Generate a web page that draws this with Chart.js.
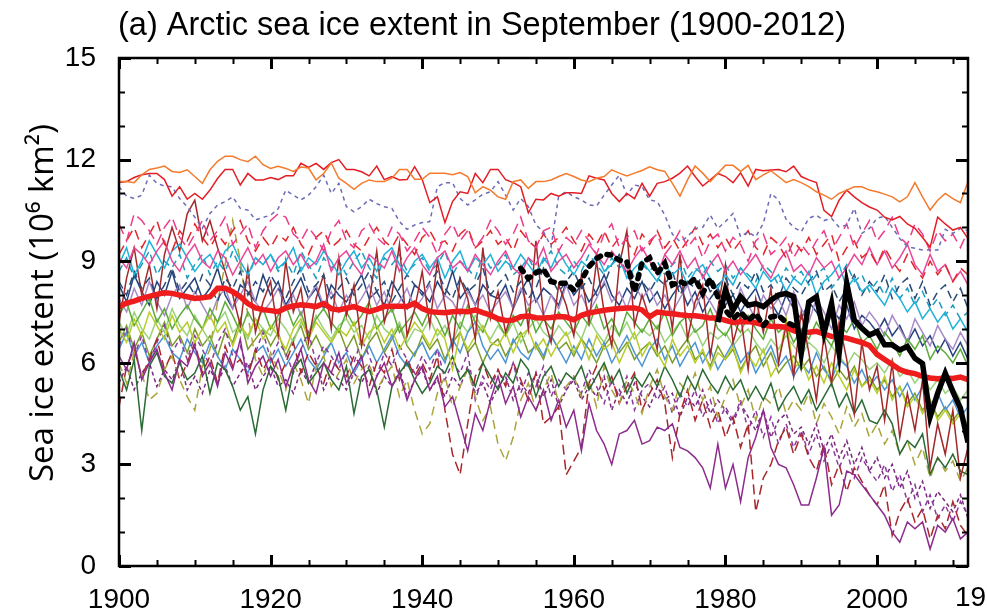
<!DOCTYPE html>
<html>
<head>
<meta charset="utf-8">
<script src="https://cdn.jsdelivr.net/npm/chart.js@4.4.1/dist/chart.umd.min.js"></script>
<style>
  html, body { margin: 0; padding: 0; background: #ffffff; }
  #wrap { width: 987px; height: 615px; position: relative; }
</style>
</head>
<body>
<div id="wrap"><canvas id="c" width="987" height="615"></canvas></div>
<script>
// ---- categories (years) and axis tick labels ----
const years = [];
for (let y = 1900; y <= 2012; y++) years.push(y);
const xTickLabels = [1900, 1920, 1940, 1960, 1980, 2000];
const yTickLabels = [0, 3, 6, 9, 12, 15];

// ---- multi-model ensemble mean (1900-2012) ----
const ensembleMean = [
  7.66, 7.76, 7.82, 7.90, 7.96, 8.02, 8.07, 8.05, 8.00, 7.95,
  7.90, 7.92, 7.95, 8.20, 8.20, 8.10, 7.95, 7.75, 7.62, 7.57,
  7.54, 7.51, 7.62, 7.68, 7.71, 7.69, 7.66, 7.75, 7.60, 7.56,
  7.61, 7.66, 7.58, 7.51, 7.58, 7.66, 7.67, 7.67, 7.66, 7.76,
  7.60, 7.51, 7.49, 7.48, 7.51, 7.52, 7.51, 7.56, 7.48, 7.41,
  7.30, 7.25, 7.26, 7.36, 7.38, 7.33, 7.32, 7.34, 7.37, 7.35,
  7.27, 7.40, 7.47, 7.51, 7.55, 7.58, 7.60, 7.62, 7.62, 7.56,
  7.36, 7.50, 7.47, 7.45, 7.42, 7.40, 7.39, 7.36, 7.32, 7.32,
  7.25, 7.19, 7.21, 7.22, 7.18, 7.12, 7.08, 7.07, 7.05, 6.95,
  6.88, 6.90, 6.93, 6.85, 6.78, 6.76, 6.73, 6.66, 6.60, 6.51,
  6.25, 6.10, 5.95, 5.80, 5.72, 5.68, 5.60, 5.55, 5.53, 5.55,
  5.54, 5.58, 5.50
];

// ---- observations ----
const obsSatelliteStart = 1979;
const obsSatellite = [
  7.20, 8.15, 7.56, 7.95, 7.70, 7.75, 7.66, 7.85, 8.00, 8.05,
  7.95, 6.28, 7.80, 7.95, 6.87, 7.75, 6.28, 8.35, 7.26, 7.02,
  6.82, 6.92, 6.53, 6.53, 6.38, 6.48, 6.13, 5.98, 4.40, 5.10,
  5.69, 5.15, 4.66, 3.65
];
const obsHistoricStart = 1953;
const obsHistoric = [
  8.79, 8.49, 8.66, 8.76, 8.40, 8.35, 8.35, 8.15, 8.44, 8.84,
  9.08, 9.21, 9.18, 9.03, 8.98, 8.10, 8.95, 9.10, 8.64, 8.94,
  8.30, 8.40, 8.30, 8.49, 8.05, 8.49, 7.95, 7.55, 7.30, 7.50,
  7.25, 7.45, 7.10, 7.35, 7.40, 7.20, 7.10
];

// ---- individual model runs (1900-2012) ----
const m01 = [
  11.35, 11.35, 11.32, 11.55, 11.71, 11.75, 11.81, 11.65, 11.62, 11.70,
  11.50, 11.30, 11.70, 11.95, 12.10, 12.10, 12.00, 11.94, 12.10, 11.85,
  11.74, 11.80, 11.74, 11.65, 11.78, 11.75, 11.40, 11.59, 11.90, 11.45,
  11.30, 11.12, 11.30, 11.40, 11.35, 11.35, 11.45, 11.71, 11.71, 11.42,
  11.42, 11.60, 11.60, 11.60, 11.55, 11.62, 11.50, 11.02, 11.20, 11.10,
  10.90, 10.83, 11.35, 11.40, 11.15, 11.35, 11.35, 11.40, 11.50, 11.59,
  11.50, 11.40, 11.35, 11.45, 11.50, 11.70, 11.60, 11.52, 11.60, 11.68,
  11.79, 11.70, 11.65, 11.30, 10.92, 11.40, 11.81, 11.60, 11.35, 11.60,
  11.83, 11.83, 11.65, 11.83, 11.41, 11.55, 11.67, 11.50, 11.32, 11.41,
  11.32, 11.20, 11.05, 10.95, 10.83, 11.00, 11.10, 11.20, 11.20, 11.10,
  11.05, 10.98, 10.90, 10.75, 10.90, 11.32, 10.90, 10.51, 10.80, 11.00,
  10.85, 10.73, 11.35
];
const m02 = [
  11.32, 11.35, 11.47, 11.55, 11.59, 11.59, 11.41, 10.92, 11.20, 10.83,
  11.00, 10.83, 11.10, 11.44, 11.71, 11.71, 11.25, 11.59, 11.40, 11.40,
  11.47, 11.41, 11.52, 11.52, 11.89, 11.77, 11.89, 11.71, 11.91, 12.00,
  11.71, 11.71, 11.64, 11.52, 11.81, 11.41, 11.50, 11.40, 11.41, 11.79,
  11.41, 10.73, 10.90, 10.14, 10.76, 11.05, 11.00, 11.59, 11.32, 11.71,
  11.71, 11.41, 11.32, 11.20, 10.43, 10.83, 10.81, 11.00, 10.92, 11.02,
  11.02, 11.00, 11.52, 11.45, 11.40, 11.00, 10.76, 11.00, 10.85, 11.30,
  10.92, 11.30, 11.35, 11.45, 11.60, 11.81, 11.50, 11.22, 11.40, 11.59,
  11.50, 11.32, 11.61, 11.22, 11.71, 11.67, 11.69, 11.71, 11.64, 11.81,
  11.50, 11.40, 11.32, 10.50, 10.32, 10.80, 11.10, 10.90, 10.73, 10.60,
  10.51, 10.30, 10.22, 10.32, 10.10, 9.97, 9.70, 9.41, 10.30, 10.10,
  9.92, 10.00, 9.67
];
const m03 = [
  11.20, 10.92, 10.85, 10.95, 11.54, 11.30, 11.22, 11.20, 10.85, 10.61,
  10.30, 9.97, 10.41, 10.66, 10.76, 10.90, 10.56, 10.51, 10.22, 10.29,
  10.36, 10.55, 11.10, 10.95, 10.81, 10.95, 11.20, 11.54, 11.00, 11.30,
  10.61, 10.46, 10.61, 10.83, 10.70, 10.61, 10.56, 10.17, 9.94, 10.07,
  10.14, 10.17, 11.20, 11.32, 11.32, 10.85, 10.66, 10.81, 10.98, 11.05,
  11.35, 10.95, 10.51, 10.85, 10.61, 10.07, 9.87, 9.43, 10.92, 11.05,
  10.90, 10.81, 10.66, 10.63, 10.95, 11.25, 11.54, 10.95, 11.25, 11.20,
  10.81, 10.76, 10.36, 9.80, 9.58, 9.72, 9.97, 10.00, 10.36, 9.97,
  10.17, 10.41, 9.72, 9.87, 9.72, 10.12, 11.00, 10.81, 10.24, 10.00,
  9.87, 10.27, 10.36, 10.20, 10.27, 10.00, 10.07, 10.56, 9.82, 9.97,
  10.27, 10.33, 10.00, 9.67, 9.43, 9.38, 9.33, 9.33, 9.33, 9.94,
  9.82, 9.97, 9.90
];
const m04 = [
  10.1, 9.6, 10.4, 10.2, 9.9, 9.5, 10.0, 10.3, 9.7, 9.4,
  9.8, 10.2, 9.6, 9.9, 10.3, 9.5, 9.8, 10.1, 9.4, 9.9,
  10.2, 10.4, 10.3, 9.8, 9.6, 10.0, 9.7, 9.3, 9.9, 10.2,
  9.6, 9.4, 9.9, 10.1, 9.7, 9.5, 10.0, 9.8, 9.3, 9.6,
  10.0, 9.7, 9.2, 9.8, 10.1, 9.6, 9.9, 9.4, 9.7, 10.2,
  9.9, 9.5, 9.8, 10.3, 9.6, 9.4, 9.9, 10.0, 9.3, 9.7,
  9.5, 9.9, 9.6, 9.2, 9.8, 10.1, 9.4, 9.7, 9.9, 9.3,
  9.6, 9.8, 9.2, 9.5, 9.9, 9.4, 9.7, 9.1, 9.6, 9.8,
  9.3, 9.7, 9.5, 9.0, 9.6, 9.8, 9.2, 9.4, 9.7, 9.1,
  9.5, 9.2, 9.6, 9.9, 9.3, 9.7, 10.1, 9.4, 9.8, 10.2,
  9.6, 9.9, 10.3, 9.7, 9.5, 10.1, 9.8, 9.3, 9.9, 9.6,
  9.8, 9.4, 9.9
];
const m05 = [
  9.2, 9.6, 10.0, 9.4, 9.8, 10.2, 9.5, 9.3, 9.9, 9.6,
  10.1, 9.7, 9.4, 9.8, 9.5, 9.9, 10.2, 9.6, 9.3, 9.7,
  9.4, 9.8, 9.6, 10.0, 9.5, 9.2, 9.7, 9.9, 9.4, 9.6,
  9.9, 9.5, 9.3, 9.7, 10.0, 9.6, 9.4, 9.8, 9.5, 9.2,
  9.7, 9.9, 9.5, 9.6, 9.3, 9.8, 10.0, 9.4, 9.6, 9.9,
  9.5, 9.7, 9.3, 9.9, 9.6, 9.4, 9.8, 9.5, 9.7, 10.0,
  9.6, 9.3, 9.8, 9.5, 9.9, 9.4, 9.7, 9.6, 9.2, 9.8,
  9.5, 9.9, 9.4, 9.7, 9.3, 9.6, 10.0, 9.5, 9.8, 9.4,
  9.7, 9.3, 9.6, 9.9, 9.4, 9.2, 9.7, 9.5, 9.1, 9.6,
  9.3, 9.7, 9.2, 9.5, 9.8, 9.0, 9.4, 9.6, 9.1, 9.3,
  8.9, 9.4, 9.0, 8.7, 9.2, 8.8, 8.5, 9.0, 8.6, 8.9,
  8.4, 8.8, 8.6
];
const m06 = [
  9.1, 8.8, 9.4, 9.2, 8.9, 9.3, 9.6, 9.0, 8.7, 9.2,
  9.5, 9.0, 8.8, 9.3, 9.1, 8.6, 9.0, 9.4, 8.9, 9.2,
  8.7, 9.1, 9.3, 8.9, 9.2, 8.8, 9.0, 9.5, 8.7, 9.1,
  9.3, 8.9, 8.6, 9.2, 9.0, 8.8, 9.3, 8.7, 9.1, 9.4,
  8.9, 8.6, 9.1, 9.3, 8.8, 9.0, 8.7, 9.2, 8.9, 8.6,
  9.0, 9.3, 8.8, 8.6, 9.1, 8.9, 9.4, 8.7, 9.0, 9.2,
  8.8, 9.1, 9.5, 9.2, 8.9, 9.3, 9.0, 8.7, 9.1, 9.4,
  9.0, 8.6, 9.2, 8.9, 9.3, 8.8, 9.1, 8.5, 8.9, 9.2,
  8.7, 9.0, 8.6, 8.9, 9.2, 8.8, 8.5, 9.0, 9.3, 8.7,
  8.9, 8.6, 9.1, 8.8, 9.0, 8.5, 8.8, 9.2, 8.9, 9.4,
  8.9, 9.3, 8.8, 9.1, 9.5, 8.9, 8.6, 9.2, 8.7, 8.9,
  8.4, 8.7, 8.3
];
const m07 = [
  8.9, 9.4, 8.6, 9.0, 9.6, 9.2, 8.8, 9.3, 9.5, 9.1,
  8.7, 9.0, 9.2, 8.8, 9.3, 9.5, 9.0, 8.6, 9.1, 8.9,
  9.2, 8.8, 9.0, 9.4, 8.7, 9.1, 8.9, 9.3, 9.0, 8.6,
  9.0, 9.3, 8.8, 9.1, 8.7, 9.2, 9.4, 8.9, 8.6, 9.0,
  9.2, 8.8, 9.1, 8.5, 9.0, 9.3, 8.7, 9.1, 8.9, 9.2,
  8.7, 9.0, 8.8, 9.2, 8.9, 8.6, 9.1, 8.8, 9.3, 8.9,
  8.6, 9.0, 8.8, 9.2, 8.7, 8.9, 9.1, 8.5, 8.8, 9.0,
  8.7, 8.4, 8.9, 8.6, 8.8, 8.3, 8.7, 8.9, 8.5, 8.2,
  8.6, 8.3, 8.8, 8.5, 8.2, 8.7, 8.4, 8.6, 8.1, 8.5,
  8.3, 8.7, 8.0, 8.4, 8.6, 8.9, 8.2, 8.5, 8.1, 8.3,
  8.0, 7.7, 8.2, 7.9, 7.5, 7.8, 7.3, 7.6, 7.2, 7.5,
  7.0, 7.3, 6.9
];
const m08 = [
  8.4, 8.0, 8.7, 8.2, 8.5, 7.9, 8.3, 8.8, 8.1, 8.4,
  8.0, 8.6, 8.3, 7.8, 8.5, 8.2, 8.7, 8.0, 8.4, 8.1,
  8.6, 8.2, 7.9, 8.4, 8.8, 8.1, 8.3, 8.6, 7.9, 8.2,
  8.5, 8.0, 8.3, 8.7, 8.1, 8.4, 7.8, 8.2, 8.6, 8.3,
  8.0, 8.4, 8.7, 8.2, 7.9, 8.5, 8.1, 8.3, 8.8, 8.0,
  8.3, 8.6, 8.1, 8.4, 7.9, 8.2, 8.8, 8.5, 8.1, 8.4,
  8.7, 8.2, 8.5, 8.0, 8.3, 8.9, 9.2, 8.6, 8.2, 8.4,
  8.1, 8.5, 8.3, 8.7, 8.0, 8.4, 8.2, 8.6, 8.1, 8.3,
  8.5, 8.0, 8.4, 8.2, 8.7, 8.1, 8.3, 7.9, 8.5, 8.2,
  8.0, 8.4, 8.7, 8.1, 8.3, 7.8, 8.2, 8.6, 8.0, 8.4,
  8.1, 8.6, 7.9, 8.3, 8.5, 7.9, 8.4, 7.7, 8.1, 8.3,
  7.8, 8.2, 7.6
];
const m09 = [
  7.2, 8.5, 9.4, 8.0, 8.9, 7.6, 9.2, 10.0, 9.3, 10.4,
  10.8, 9.6, 10.2, 9.4, 8.7, 8.0, 7.1, 8.8, 6.9, 7.8,
  8.4, 6.8, 9.0, 7.5, 8.2, 6.6, 7.9, 8.6, 7.0, 9.1,
  7.4, 8.3, 6.5, 7.8, 9.3, 7.2, 8.0, 9.5, 6.8, 7.6,
  8.7, 7.1, 9.0, 7.7, 6.4, 8.5, 7.9, 6.7, 9.4, 7.3,
  8.1, 6.9, 7.6, 8.8, 7.0, 9.6, 7.4, 6.6, 8.3, 7.7,
  6.8, 8.6, 7.2, 9.0, 7.5, 6.5, 8.9, 9.9, 7.1, 8.0,
  7.3, 6.4, 8.5, 7.0, 9.2, 6.7, 7.8, 8.3, 6.2, 7.6,
  8.9, 6.6, 7.4, 5.8, 7.9, 6.9, 8.2, 6.0, 7.1, 5.6,
  7.5, 6.3, 4.9, 6.8, 5.4, 7.2, 6.1, 4.5, 6.6, 5.2,
  5.9, 4.3, 6.0, 3.8, 5.1, 4.0, 5.5, 2.9, 4.2, 3.3,
  4.6, 2.6, 3.5
];
const m10 = [
  6.2, 5.8, 6.6, 5.5, 6.0, 6.4, 5.7, 5.2, 6.1, 5.9,
  6.5, 5.6, 6.0, 5.3, 6.3, 5.8, 6.7, 5.4, 5.9, 6.2,
  5.6, 6.1, 5.3, 5.9, 6.4, 5.5, 5.1, 6.0, 5.7, 6.3,
  5.4, 5.8, 6.2, 5.0, 5.6, 6.0, 5.3, 5.7, 4.9, 5.5,
  5.9, 5.2, 5.6, 4.7, 5.0, 4.2, 3.4, 4.5, 4.0, 4.9,
  5.6, 4.8, 5.3, 4.4, 5.0, 4.6, 5.2, 4.3, 4.9, 4.1,
  4.6, 3.4, 4.8, 4.0, 3.6, 3.0, 3.9, 4.0, 4.3, 3.6,
  3.7, 4.1, 4.0, 4.2, 3.5, 3.4, 3.2, 2.9, 2.3, 3.6,
  2.3, 3.0, 1.9, 3.2, 3.8, 4.6, 3.5, 3.0, 2.9, 2.4,
  1.8, 1.8, 2.6, 3.5, 1.5, 1.8, 2.8, 2.7, 2.4, 2.1,
  1.8, 1.5, 1.0, 0.7, 1.3, 1.1, 1.3, 0.5, 1.2, 1.0,
  1.4, 0.8, 1.0
];
const m11 = [
  7.0, 6.6, 7.3, 6.8, 7.5, 7.1, 6.7, 7.4, 6.9, 7.2,
  6.6, 7.0, 7.4, 6.9, 7.2, 6.5, 7.1, 6.8, 7.3, 6.7,
  7.1, 6.8, 6.4, 7.0, 7.3, 6.7, 7.2, 6.9, 6.6, 7.0,
  6.8, 7.2, 6.5, 6.9, 7.1, 6.6, 7.0, 6.4, 6.8, 7.2,
  6.9, 6.5, 7.0, 6.7, 5.8, 6.9, 6.4, 6.8, 7.1, 6.6,
  6.5, 6.9, 6.3, 6.8, 7.0, 6.4, 6.7, 6.2, 6.6, 6.9,
  6.3, 6.7, 6.1, 6.8, 6.4, 6.6, 6.0, 6.5, 6.9, 6.2,
  6.6, 6.3, 5.9, 6.7, 6.2, 6.5, 6.0, 6.4, 5.8, 6.3,
  6.1, 6.5, 5.7, 6.2, 5.9, 6.4, 5.6, 6.0, 7.3, 5.8,
  6.1, 5.5, 5.9, 5.4, 6.0, 5.6, 5.2, 5.8, 5.3, 5.5,
  5.1, 5.6, 4.9, 5.3, 4.7, 5.0, 4.5, 4.9, 4.3, 4.6,
  4.2, 4.5, 4.0
];
const m12 = [
  7.4, 7.8, 7.1, 7.5, 7.9, 7.2, 7.6, 7.0, 7.4, 7.7,
  7.3, 7.0, 7.6, 7.2, 7.8, 7.4, 6.9, 7.5, 7.1, 7.6,
  7.0, 7.4, 7.7, 7.1, 7.5, 6.8, 7.3, 7.6, 7.2, 6.9,
  7.5, 7.1, 7.4, 7.8, 7.0, 7.3, 7.6, 6.9, 7.2, 7.5,
  7.1, 7.6, 7.3, 6.8, 7.4, 7.0, 7.7, 7.2, 6.9, 7.5,
  7.2, 6.8, 7.4, 7.1, 7.6, 6.9, 7.3, 7.0, 7.5, 7.2,
  6.9, 7.4, 7.1, 7.7, 7.0, 7.3, 6.8, 7.5, 7.2, 6.9,
  7.3, 7.0, 7.5, 6.8, 7.2, 7.4, 6.9, 7.1, 7.6, 7.0,
  6.8, 7.2, 6.9, 7.4, 7.0, 6.7, 7.3, 6.9, 7.1, 6.6,
  7.0, 6.7, 7.2, 6.8, 6.5, 7.1, 6.9, 7.3, 6.6, 6.8,
  6.4, 6.9, 6.6, 6.2, 6.7, 6.4, 6.8, 6.1, 6.5, 6.3,
  6.0, 6.4, 5.9
];
const m13 = [
  5.8, 5.2, 6.1, 4.0, 5.9, 6.3, 5.6, 5.4, 6.0, 5.5,
  5.7, 6.2, 5.1, 6.0, 5.8, 5.3, 4.6, 5.0, 3.9, 5.2,
  5.9, 5.6, 4.6, 5.8, 6.1, 5.4, 5.7, 6.0, 5.5, 5.2,
  5.9, 4.5, 5.6, 5.8, 5.2, 4.1, 5.3, 5.7, 6.0, 5.5,
  5.1, 5.4, 5.9, 5.7, 6.2, 5.5, 5.8, 5.3, 6.0, 5.6,
  5.2, 5.7, 5.4, 6.1, 5.8, 5.0, 5.6, 5.9, 5.3, 5.7,
  5.5, 5.9, 5.2, 5.6, 6.0, 5.4, 5.8, 5.1, 5.6, 5.3,
  5.7, 5.3, 5.9, 5.5, 5.0, 5.6, 5.2, 5.8, 5.4, 5.1,
  5.6, 5.2, 5.5, 4.9, 5.3, 4.9, 5.4, 4.6, 5.0, 5.3,
  4.8, 5.2, 4.6, 5.0, 5.4, 4.7, 5.1, 4.5, 4.9, 4.3,
  4.2, 4.6, 4.2, 3.3, 3.7, 3.5, 3.9, 2.7, 3.2, 2.9,
  3.3, 2.8, 2.7
];
const m14 = [
  6.0, 5.4, 6.3, 5.7, 4.9, 5.1, 5.8, 6.2, 5.5, 5.0,
  4.6, 5.9, 6.4, 7.8, 8.9, 10.2, 9.0, 7.4, 6.1, 5.6,
  6.3, 5.8, 5.2, 6.0, 5.5, 4.8, 5.9, 6.2, 5.3, 5.7,
  6.1, 5.4, 5.8, 6.0, 5.2, 5.6, 5.9, 5.0, 5.5, 4.6,
  3.9, 4.2, 5.1, 5.6, 4.7, 5.3, 5.8, 5.0, 4.3, 4.7,
  3.6, 3.1, 3.8, 4.9, 5.4, 4.6, 5.2, 5.7, 4.8, 5.3,
  5.6, 5.0, 5.5, 4.7, 5.9, 5.2, 4.8, 5.5, 5.1, 4.5,
  5.3, 5.8, 5.0, 4.6, 5.4, 5.1, 5.7, 4.9, 5.3, 4.4,
  5.0, 5.5, 4.7, 5.2, 4.3, 5.0, 4.8, 5.3, 4.5, 4.9,
  4.6, 5.1, 4.2, 4.8, 4.4, 3.9, 4.7, 4.1, 4.5, 3.8,
  4.2, 3.6, 4.0, 3.3, 3.7, 3.0, 3.5, 2.6, 3.2, 2.8,
  3.1, 2.5, 2.9
];
const m15 = [
  4.7, 5.9, 6.4, 5.6, 6.1, 6.7, 5.8, 6.3, 5.5, 6.0,
  6.6, 5.7, 6.2, 5.4, 6.5, 5.9, 6.1, 5.6, 6.4, 5.8,
  6.2, 5.5, 6.0, 6.6, 5.7, 6.3, 5.9, 5.4, 6.1, 5.8,
  5.6, 6.2, 5.9, 5.3, 6.0, 5.7, 6.4, 5.5, 6.1, 5.6,
  6.0, 5.5, 6.2, 4.6, 3.3, 2.7, 4.2, 5.6, 6.0, 5.4,
  5.8, 5.3, 6.0, 5.5, 4.9, 5.7, 4.2, 4.4, 4.7, 2.7,
  3.1, 3.5, 5.4, 5.9, 5.2, 5.6, 4.8, 5.3, 5.7, 4.6,
  5.1, 5.5, 4.8, 3.2, 4.5, 5.2, 4.3, 4.9, 4.1, 4.6,
  3.8, 4.4, 3.5, 4.2, 1.6, 2.6, 3.0, 3.7, 4.1, 3.3,
  3.9, 3.2, 2.8, 3.6, 2.4, 3.0, 2.2, 2.9, 2.5, 2.1,
  1.8, 2.4, 0.9, 1.6, 2.0, 1.3, 1.7, 0.8, 1.5, 1.1,
  1.9, 1.2, 0.9
];
const m16 = [
  6.5, 7.0, 6.2, 6.8, 6.0, 6.6, 7.1, 6.3, 6.7, 6.1,
  6.8, 6.4, 5.9, 6.6, 7.0, 6.2, 6.5, 5.8, 6.3, 6.9,
  6.1, 6.6, 6.3, 5.7, 6.4, 6.9, 6.0, 6.5, 6.2, 5.8,
  6.4, 6.0, 6.7, 6.2, 5.6, 6.3, 5.9, 6.5, 6.1, 5.7,
  6.2, 5.8, 6.4, 5.5, 6.0, 5.7, 6.3, 4.9, 5.6, 5.2,
  5.8, 5.4, 6.0, 5.1, 5.7, 5.3, 5.9, 5.0, 5.5, 5.2,
  5.6, 5.1, 5.8, 5.3, 4.8, 5.5, 5.0, 5.6, 4.6, 5.2,
  5.4, 4.9, 5.3, 4.5, 5.1, 4.7, 5.2, 4.4, 4.9, 4.2,
  4.7, 4.3, 4.9, 4.0, 4.6, 3.8, 4.4, 3.6, 4.2, 3.5,
  4.0, 3.3, 3.9, 3.1, 3.6, 2.9, 3.4, 2.6, 3.2, 2.8,
  2.5, 3.0, 2.2, 2.7, 1.9, 2.4, 1.6, 2.1, 1.4, 1.8,
  1.3, 1.9, 1.5
];
const m17 = [
  6.4, 6.9, 6.2, 6.6, 6.0, 6.5, 6.8, 6.3, 6.1, 6.7,
  6.3, 6.0, 6.6, 6.2, 5.8, 6.4, 6.1, 5.7, 6.3, 6.5,
  6.0, 6.4, 5.9, 6.3, 6.7, 6.1, 5.8, 6.2, 6.6, 6.0,
  6.3, 5.7, 6.1, 6.5, 6.0, 6.4, 6.8, 6.2, 5.9, 6.3,
  6.6, 6.1, 6.4, 6.0, 6.7, 6.3, 6.9, 7.2, 6.5, 6.1,
  6.4, 6.0, 6.7, 6.3, 6.1, 6.6, 6.2, 6.8, 6.4, 6.0,
  6.5, 6.1, 6.7, 6.2, 6.6, 6.0, 6.4, 6.8, 6.3, 5.9,
  6.4, 6.7, 6.1, 6.5, 5.9, 6.3, 6.6, 6.0, 6.4, 5.8,
  6.2, 6.6, 6.0, 6.3, 5.7, 6.1, 6.5, 5.9, 6.2, 5.6,
  6.0, 5.7, 6.3, 5.8, 5.5, 6.1, 5.9, 5.4, 5.8, 5.3,
  5.6, 5.2, 5.5, 5.0, 5.4, 4.9, 5.3, 4.7, 5.1, 4.6,
  4.9, 4.4, 4.7
];
const m18 = [
  7.9, 7.5, 8.2, 7.7, 8.4, 7.8, 7.4, 8.0, 8.3, 7.6,
  8.1, 7.7, 7.3, 7.9, 8.2, 7.6, 8.0, 8.4, 7.8, 7.5,
  7.8, 8.2, 7.6, 8.0, 7.4, 7.9, 8.3, 7.7, 8.1, 7.5,
  8.0, 7.6, 7.9, 8.3, 7.7, 8.1, 7.5, 7.8, 8.2, 7.6,
  7.9, 8.3, 7.6, 8.0, 7.8, 7.4, 8.1, 7.7, 8.0, 7.5,
  7.8, 8.1, 7.6, 8.2, 7.7, 7.9, 7.4, 8.0, 7.6, 8.3,
  7.7, 8.0, 7.5, 7.9, 8.4, 7.8, 8.1, 7.6, 8.3, 7.9,
  8.2, 7.7, 8.0, 7.5, 7.9, 8.3, 7.6, 8.1, 7.8, 7.4,
  7.9, 7.5, 8.2, 7.7, 7.3, 8.0, 7.6, 7.9, 7.4, 8.1,
  7.6, 7.2, 7.9, 7.5, 7.0, 7.7, 7.3, 7.8, 7.1, 7.5,
  7.2, 6.8, 7.4, 7.0, 6.6, 7.3, 6.9, 6.5, 7.1, 6.7,
  6.4, 6.9, 6.5
];
const m19 = [
  8.3, 7.8, 8.6, 8.1, 7.7, 8.4, 8.0, 8.7, 7.9, 8.2,
  8.5, 7.9, 8.2, 8.8, 8.0, 7.6, 8.3, 8.1, 7.8, 8.6,
  8.0, 8.4, 7.7, 8.1, 8.5, 7.9, 8.2, 7.6, 8.3, 8.0,
  7.8, 8.2, 8.6, 7.9, 8.1, 7.7, 8.4, 8.0, 7.6, 8.3,
  8.1, 7.8, 8.4, 8.0, 8.7, 7.9, 8.2, 7.7, 8.3, 8.0,
  7.9, 8.3, 7.6, 8.1, 8.5, 7.8, 8.2, 8.0, 7.7, 8.4,
  8.0, 8.3, 7.8, 8.1, 8.6, 8.0, 7.7, 8.2, 7.9, 8.4,
  7.8, 8.1, 7.6, 8.0, 8.3, 7.7, 8.1, 7.5, 7.9, 8.2,
  7.7, 8.0, 7.5, 7.9, 8.2, 7.6, 7.8, 7.4, 8.0, 7.6,
  7.3, 7.8, 7.5, 7.1, 7.6, 7.3, 7.7, 7.0, 7.4, 7.2,
  6.9, 7.3, 6.8, 7.1, 6.6, 7.0, 6.5, 6.8, 6.3, 6.7,
  6.2, 6.6, 6.1
];
const m20 = [
  7.2, 6.8, 7.5, 7.0, 6.7, 7.3, 6.9, 7.6, 7.1, 6.8,
  7.4, 7.0, 6.6, 7.2, 7.5, 6.9, 7.1, 6.7, 7.3, 7.0,
  6.8, 7.3, 7.0, 6.6, 7.2, 6.9, 7.4, 7.0, 6.7, 7.1,
  7.3, 6.9, 7.1, 6.7, 7.4, 7.0, 6.8, 7.2, 6.6, 7.0,
  6.9, 7.3, 6.8, 7.1, 6.6, 7.2, 6.9, 7.4, 7.0, 6.7,
  7.1, 6.8, 7.2, 6.6, 7.0, 7.3, 6.9, 6.7, 7.1, 6.8,
  7.0, 6.7, 7.3, 6.9, 6.6, 7.1, 6.8, 7.2, 6.7, 7.0,
  6.8, 7.1, 6.6, 6.9, 7.2, 6.7, 7.0, 6.5, 6.9, 6.7,
  6.9, 6.5, 6.8, 7.0, 6.6, 6.3, 6.7, 6.4, 6.8, 6.5,
  6.2, 6.6, 6.4, 6.0, 6.5, 6.2, 5.9, 6.3, 6.1, 5.8,
  6.0, 5.7, 6.1, 5.6, 5.8, 5.4, 5.7, 5.2, 5.5, 5.1,
  5.3, 4.9, 5.2
];
const m21 = [
  8.7, 9.1, 8.5, 8.9, 9.3, 8.6, 9.0, 8.8, 9.2, 8.5,
  8.9, 9.2, 8.6, 9.0, 8.7, 9.3, 8.8, 8.5, 9.1, 8.9,
  9.2, 8.7, 9.0, 8.6, 9.3, 8.9, 8.5, 9.1, 8.8, 9.0,
  8.6, 9.0, 9.3, 8.8, 8.5, 9.1, 8.9, 9.2, 8.7, 8.9,
  9.1, 8.7, 8.9, 9.3, 8.6, 9.0, 8.8, 8.5, 9.2, 8.8,
  8.9, 9.2, 8.6, 8.8, 9.1, 8.7, 9.0, 9.3, 8.8, 8.6,
  9.0, 8.7, 9.2, 8.9, 8.6, 9.1, 8.8, 9.0, 8.5, 8.9,
  8.7, 9.0, 8.6, 8.9, 9.1, 8.5, 8.8, 8.6, 9.0, 8.7,
  8.9, 8.5, 8.8, 8.6, 8.4, 8.9, 8.7, 8.3, 8.8, 8.5,
  8.7, 8.3, 8.6, 8.8, 8.2, 8.5, 8.9, 8.4, 8.6, 8.1,
  8.4, 8.0, 8.5, 7.9, 8.2, 7.7, 8.1, 7.6, 7.9, 7.4,
  7.7, 7.3, 7.5
];
const m22 = [
  5.4, 5.9, 5.2, 5.7, 6.0, 5.3, 5.8, 5.5, 6.1, 5.2,
  5.6, 5.1, 5.8, 5.4, 5.9, 5.3, 5.7, 6.0, 5.2, 5.6,
  5.9, 5.3, 5.5, 5.1, 5.8, 5.4, 6.0, 5.2, 5.7, 5.5,
  5.2, 5.7, 5.4, 5.9, 5.1, 5.6, 5.3, 5.8, 5.0, 5.5,
  5.8, 5.2, 5.5, 5.0, 5.6, 5.3, 5.9, 5.1, 5.4, 4.8,
  5.3, 5.6, 4.9, 5.4, 5.1, 5.7, 5.0, 5.5, 4.7, 5.2,
  5.5, 4.9, 5.3, 5.0, 5.6, 4.6, 5.2, 4.8, 5.4, 5.0,
  4.7, 5.3, 4.9, 5.1, 4.4, 5.0, 4.7, 5.2, 4.5, 4.9,
  4.6, 4.2, 4.8, 4.4, 4.0, 4.6, 3.8, 4.3, 4.5, 3.9,
  4.1, 3.6, 4.2, 3.4, 3.9, 3.2, 3.7, 3.0, 3.5, 2.8,
  3.2, 2.6, 3.0, 2.3, 2.8, 2.0, 2.5, 1.7, 2.2, 1.9,
  1.6, 2.1, 1.4
];
const m23 = [
  6.6, 7.1, 6.4, 6.9, 6.2, 6.7, 7.2, 6.5, 6.8, 6.3,
  7.0, 6.5, 6.8, 6.2, 6.9, 6.6, 7.3, 6.4, 6.7, 7.0,
  6.5, 6.9, 6.2, 6.7, 7.1, 6.4, 6.8, 6.3, 6.6, 7.0,
  6.4, 6.8, 6.1, 6.6, 6.9, 6.3, 6.7, 7.1, 6.5, 6.2,
  6.8, 6.4, 6.7, 6.1, 6.6, 6.9, 6.3, 6.6, 6.0, 6.5,
  6.7, 6.2, 6.6, 6.9, 6.3, 6.5, 6.1, 6.8, 6.4, 6.6,
  6.2, 6.7, 6.4, 6.0, 6.5, 6.8, 6.3, 6.6, 6.1, 6.4,
  6.6, 6.2, 6.5, 6.0, 6.4, 6.7, 6.1, 6.3, 5.9, 6.5,
  6.1, 6.4, 5.8, 6.2, 6.5, 5.9, 6.3, 5.7, 6.0, 6.2,
  5.8, 6.1, 5.6, 5.9, 5.4, 5.8, 5.5, 5.9, 5.3, 5.6,
  5.2, 5.5, 5.0, 5.3, 4.8, 5.1, 4.6, 4.9, 4.4, 4.7,
  4.3, 4.6, 4.1
];

const modelRuns = [m01, m02, m03, m04, m05, m06, m07, m08, m09, m10, m11, m12,
                   m13, m14, m15, m16, m17, m18, m19, m20, m21, m22, m23];

// line colour and dash for each model run (same order as modelRuns)
const modelStyles = [
  { color: '#f47a2c', dash: [] },
  { color: '#e41d25', dash: [] },
  { color: '#6b6bb8', dash: [4, 4] },
  { color: '#ec3c88', dash: [11, 6] },
  { color: '#e3262b', dash: [10, 7] },
  { color: '#e8489a', dash: [] },
  { color: '#1fb2da', dash: [] },
  { color: '#2a4a78', dash: [8, 5] },
  { color: '#a2282a', dash: [] },
  { color: '#8c2c8c', dash: [] },
  { color: '#b8cc2a', dash: [] },
  { color: '#5caa38', dash: [] },
  { color: '#2a6a34', dash: [] },
  { color: '#a8a43a', dash: [9, 6] },
  { color: '#a8262c', dash: [10, 5] },
  { color: '#8a3a9c', dash: [5, 4] },
  { color: '#4c94d4', dash: [] },
  { color: '#a88ac8', dash: [] },
  { color: '#26427c', dash: [] },
  { color: '#9ad27a', dash: [] },
  { color: '#1a9cbc', dash: [7, 5] },
  { color: '#7a2a7c', dash: [4, 3] },
  { color: '#7c9c2c', dash: [] }
];

modelRuns.concat([ensembleMean]).forEach(function (arr) {
  if (arr.length !== years.length) throw new Error('series length ' + arr.length);
});

function toPoints(values, startYear) {
  return values.map(function (v, i) { return { x: startYear + i, y: v }; });
}

const datasets = [];
// observations on top (first dataset is drawn last)
datasets.push({
  data: toPoints(obsSatellite, obsSatelliteStart),
  borderColor: '#000000', borderWidth: 5.5, borderJoinStyle: 'miter'
});
datasets.push({
  data: toPoints(obsHistoric, obsHistoricStart),
  borderColor: '#000000', borderWidth: 5.5, borderDash: [4, 7], borderCapStyle: 'round'
});
datasets.push({
  data: toPoints(ensembleMean, 1900),
  borderColor: '#ee1c1c', borderWidth: 5.5
});
modelRuns.forEach(function (arr, i) {
  datasets.push({
    data: toPoints(arr, 1900),
    borderColor: modelStyles[i].color,
    borderDash: modelStyles[i].dash,
    borderWidth: 1.5
  });
});
datasets.forEach(function (d) {
  d.pointRadius = 0;
  d.tension = 0;
  d.fill = false;
});

const framePlugin = {
  id: 'frame',
  afterDatasetsDraw: function (chart) {
    const ctx = chart.ctx, a = chart.chartArea;
    const xs = chart.scales.x, ys = chart.scales.y;
    ctx.save();
    ctx.strokeStyle = '#000';
    ctx.lineCap = 'butt';
    // inward ticks on all four sides
    for (let yr = 1900; yr <= 2012; yr += 5) {
      const px = Math.round(xs.getPixelForValue(yr)) + 0.5;
      const major = yr % 20 === 0;
      ctx.lineWidth = major ? 3 : 2;
      const len = major ? 11 : 6;
      ctx.beginPath();
      ctx.moveTo(px, a.bottom); ctx.lineTo(px, a.bottom - len);
      ctx.moveTo(px, a.top); ctx.lineTo(px, a.top + len);
      ctx.stroke();
    }
    for (let v = 0; v <= 15; v += 1) {
      const py = Math.round(ys.getPixelForValue(v)) + 0.5;
      const major = v % 3 === 0;
      ctx.lineWidth = major ? 3 : 2;
      const len = major ? 12 : 6;
      ctx.beginPath();
      ctx.moveTo(a.left, py); ctx.lineTo(a.left + len, py);
      ctx.moveTo(a.right, py); ctx.lineTo(a.right - len, py);
      ctx.stroke();
    }
    ctx.lineWidth = 2.5;
    ctx.strokeRect(a.left, a.top, a.right - a.left, a.bottom - a.top);
    ctx.restore();
  },
  afterDraw: function (chart) {
    const ctx = chart.ctx, a = chart.chartArea;
    ctx.save();
    ctx.fillStyle = '#000';
    // panel title
    ctx.font = '32.5px "Liberation Sans", Arial, sans-serif';
    ctx.textAlign = 'left';
    ctx.textBaseline = 'alphabetic';
    ctx.fillText('(a) Arctic sea ice extent in September (1900-2012)', 118, 35);
    // y-axis title
    ctx.translate(53, 303);
    ctx.rotate(-Math.PI / 2);
    ctx.textAlign = 'center';
    ctx.font = '33px "Open Sans", "Noto Sans", sans-serif';
    ctx.fillText('Sea ice extent (10\u2076 km\u00b2)', 0, 0);
    ctx.restore();
    // first label of the neighbouring panel's axis, cut by the canvas edge
    ctx.save();
    ctx.fillStyle = '#000';
    ctx.font = '28px "Liberation Sans", Arial, sans-serif';
    ctx.textAlign = 'left';
    ctx.textBaseline = 'middle';
    ctx.fillText('1900', 955, a.bottom + 32);
    ctx.restore();
  }
};

new Chart(document.getElementById('c'), {
  type: 'line',
  data: { datasets: datasets },
  options: {
    responsive: false,
    animation: false,
    devicePixelRatio: 1,
    layout: { padding: { top: 58, right: 19, left: 0, bottom: 0 } },
    plugins: { legend: { display: false }, tooltip: { enabled: false }, title: { display: false } },
    scales: {
      x: {
        type: 'linear',
        min: 1900, max: 2012,
        grid: { display: false, drawTicks: false },
        border: { display: false },
        afterFit: function (s) { s.height = 49; },
        ticks: {
          stepSize: 20,
          includeBounds: false,
          autoSkip: false,
          maxRotation: 0,
          padding: 17,
          color: '#000',
          font: { family: '"Liberation Sans", Arial, sans-serif', size: 28 },
          callback: function (v) { return xTickLabels.indexOf(v) >= 0 ? String(v) : ''; }
        }
      },
      y: {
        min: 0, max: 15,
        grid: { display: false, drawTicks: false },
        border: { display: false },
        afterFit: function (s) { s.width = 119; },
        ticks: {
          stepSize: 3,
          padding: 23,
          color: '#000',
          font: { family: '"Liberation Sans", Arial, sans-serif', size: 28 },
          callback: function (v) { return yTickLabels.indexOf(v) >= 0 ? String(v) : ''; }
        }
      }
    }
  },
  plugins: [framePlugin]
});
</script>
</body>
</html>
